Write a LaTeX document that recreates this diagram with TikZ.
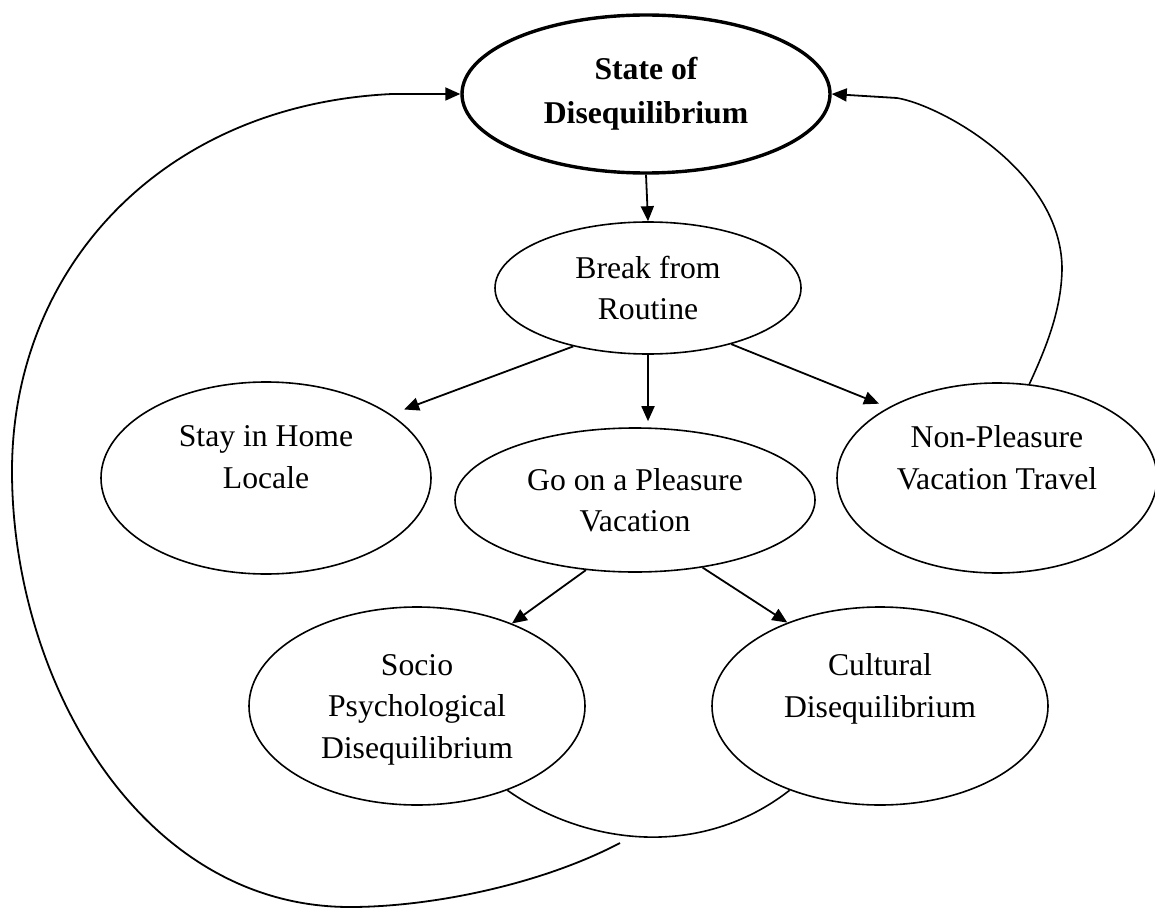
\documentclass[tikz,border=0pt]{standalone}
\usepackage{fontspec}
\setmainfont{Liberation Serif}
\usetikzlibrary{shapes.geometric,arrows.meta}

\begin{document}
\begin{tikzpicture}[x=0.5pt,y=-0.5pt]
  \tikzstyle{oval}=[ellipse,draw,line width=0.8pt,inner sep=0pt,align=center,text depth=0pt,
    font=\fontsize{15.85}{20.75}\selectfont]
  \tikzstyle{arr}=[line width=0.9pt,-{Triangle[length=7.5pt,width=6.5pt]}]
  \tikzstyle{link}=[line width=0.8pt]
  \useasboundingbox (0,0) rectangle (1155,909);
  % ovals
  \node[oval,line width=1.7pt,minimum width=184pt,minimum height=79pt,text depth=3.5pt,
    font=\fontsize{15.85}{22}\selectfont\bfseries] at (646,94) (st) {State of\\Disequilibrium};
  \node[oval,minimum width=153pt,minimum height=66pt] at (648,288) (brk) {Break from\\Routine};
  \node[oval,minimum width=165pt,minimum height=96pt] at (266,478) (stay) {Stay in Home\\Locale\\\mbox{}};
  \node[oval,minimum width=180pt,minimum height=72pt] at (635,500) (go) {Go on a Pleasure\\Vacation};
  \node[oval,minimum width=160pt,minimum height=95pt] at (997,478) (non) {Non-Pleasure\\Vacation Travel\\\mbox{}};
  \node[oval,minimum width=168pt,minimum height=99pt] at (417,706) (soc) {Socio\\Psychological\\Disequilibrium};
  \node[oval,minimum width=168pt,minimum height=99pt] at (880,706) (cul) {Cultural\\Disequilibrium\\\mbox{}};
  \coordinate (lp) at (620,843);
  \coordinate (lt) at (392,94);
  \coordinate (rt) at (897,98);
  % arrows down the tree
  \draw[arr] (st.south) -- (brk.north);
  \draw[arr,shorten >=3pt] (brk.south) -- (brk.south |- go.north);
  \foreach \a/\t/\b/\s in {-142/stay/27/7pt,-34/non/147/5pt}{
    \draw[arr,shorten >=\s] (brk.\a) -- (\t.\b);
  }
  \foreach \a/\t/\b in {-125/soc/41,-45/cul/138}{
    \draw[arr] (go.\a) -- (\t.\b);
  }
  % feedback loops
  \draw[link] (soc.-43) .. controls (585,845) and (700,860) .. (cul.-137);
  \draw[link,line width=0.9pt] (lp) .. controls (540,885) and (430,907) .. (350,907)
    .. controls (140,907) and (12,680) .. (12,471)
    .. controls (12,270) and (160,105) .. (lt);
  \draw[arr] (lt) -- (st.west);
  \draw[link] (non.71) .. controls (1045,350) and (1062,310) .. (1062,267)
    .. controls (1060,170) and (940,105) .. (rt);
  \draw[arr] (rt) -- (st.east);
\end{tikzpicture}
\end{document}
